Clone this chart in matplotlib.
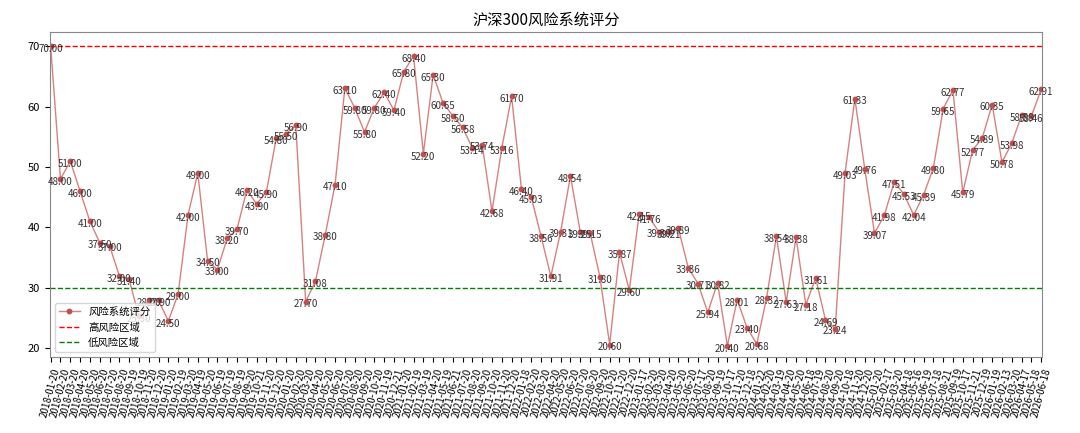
import matplotlib
matplotlib.use("Agg")
import matplotlib.pyplot as plt

plt.rcParams['font.family'] = ['Noto Sans CJK SC', 'DejaVu Sans']
plt.rcParams['axes.unicode_minus'] = False

dates = [
    "2018-01-20", "2018-02-20", "2018-03-20", "2018-04-20", "2018-05-20", "2018-06-20",
    "2018-07-20", "2018-08-20", "2018-09-19", "2018-10-19", "2018-11-20", "2018-12-20",
    "2019-01-20", "2019-02-19", "2019-03-20", "2019-04-19", "2019-05-20", "2019-06-19",
    "2019-07-19", "2019-08-19", "2019-09-20", "2019-10-21", "2019-11-20", "2019-12-20",
    "2020-01-20", "2020-02-20", "2020-03-20", "2020-04-20", "2020-05-20", "2020-06-20",
    "2020-07-20", "2020-08-20", "2020-09-20", "2020-10-20", "2020-11-19", "2020-12-21",
    "2021-01-20", "2021-02-19", "2021-03-19", "2021-04-20", "2021-05-19", "2021-06-21",
    "2021-07-20", "2021-08-20", "2021-09-20", "2021-10-20", "2021-11-20", "2021-12-20",
    "2022-01-18", "2022-02-20", "2022-03-20", "2022-04-20", "2022-05-20", "2022-06-20",
    "2022-07-20", "2022-08-20", "2022-09-20", "2022-10-20", "2022-11-20", "2022-12-20",
    "2023-01-17", "2023-02-20", "2023-03-20", "2023-04-20", "2023-05-20", "2023-06-20",
    "2023-07-17", "2023-08-20", "2023-09-19", "2023-10-17", "2023-11-20", "2023-12-18",
    "2024-01-22", "2024-02-20", "2024-03-19", "2024-04-20", "2024-05-20", "2024-06-18",
    "2024-07-19", "2024-08-20", "2024-09-20", "2024-10-18", "2024-11-20", "2024-12-20",
    "2025-01-20", "2025-02-17", "2025-03-20", "2025-04-18", "2025-05-16", "2025-06-19",
    "2025-07-18", "2025-08-21", "2025-09-19", "2025-10-17", "2025-11-21", "2025-12-19",
    "2026-01-19", "2026-02-13", "2026-03-20", "2026-04-17", "2026-05-18", "2026-06-18",
]

scores = [
    70.00, 48.00, 51.00, 46.00, 41.00, 37.50, 37.00, 32.00, 31.40, 25.30, 28.00, 27.90,
    24.50, 29.00, 42.00, 49.00, 34.50, 33.00, 38.20, 39.70, 46.20, 43.90, 45.90, 54.80,
    55.50, 56.90, 27.70, 31.08, 38.80, 47.10, 63.10, 59.80, 55.80, 59.80, 62.40, 59.40,
    65.80, 68.40, 52.20, 65.30, 60.65, 58.50, 56.58, 53.14, 53.74, 42.68, 53.16, 61.70,
    46.40, 45.03, 38.56, 31.91, 39.31, 48.54, 39.25, 39.15, 31.80, 20.60, 35.87, 29.60,
    42.15, 41.76, 39.30, 39.21, 39.89, 33.36, 30.71, 25.94, 30.82, 20.40, 28.01, 23.40,
    20.68, 28.32, 38.54, 27.63, 38.38, 27.18, 31.61, 24.69, 23.24, 49.03, 61.33, 49.76,
    39.07, 41.98, 47.51, 45.53, 42.04, 45.39, 49.80, 59.65, 62.77, 45.79, 52.77, 54.89,
    60.35, 50.78, 53.98, 58.58, 58.46, 62.91,
]

high_risk = 70
low_risk = 30

title = "沪深300风险系统评分"
series_label = "风险系统评分"
high_label = "高风险区域"
low_label = "低风险区域"

fig = plt.figure(figsize=(10.8, 4.33), dpi=100)
ax = fig.add_axes([0.046, 0.175, 0.919, 0.75])

x = list(range(len(dates)))
ax.plot(x, scores, color='#d98080', linewidth=1.0, marker='o', markersize=3.2,
        markerfacecolor='#c0504d', markeredgecolor='#c0504d', label=series_label)
ax.axhline(high_risk, color='red', linestyle='--', linewidth=1.0, label=high_label)
ax.axhline(low_risk, color='green', linestyle='--', linewidth=1.0, label=low_label)

for xi, v in zip(x, scores):
    ax.annotate(f"{v:.2f}", (xi, v), textcoords='offset points', xytext=(0, -2),
                ha='center', va='center', fontsize=7, color='#333333')

ax.set_xticks(x)
ax.set_xticklabels(dates, rotation=75, fontsize=7, ha='center')
ax.set_xlim(-0.1, len(dates) - 0.9)
ax.set_ylim(18.5, 72.3)
ax.set_yticks([20, 30, 40, 50, 60, 70])
ax.tick_params(axis='y', labelsize=8)
ax.set_title(title, fontsize=11)
ax.legend(loc='lower left', fontsize=7.5, frameon=True)
for s in ax.spines.values():
    s.set_color('#888888')

fig.savefig("out.png", dpi=100)
